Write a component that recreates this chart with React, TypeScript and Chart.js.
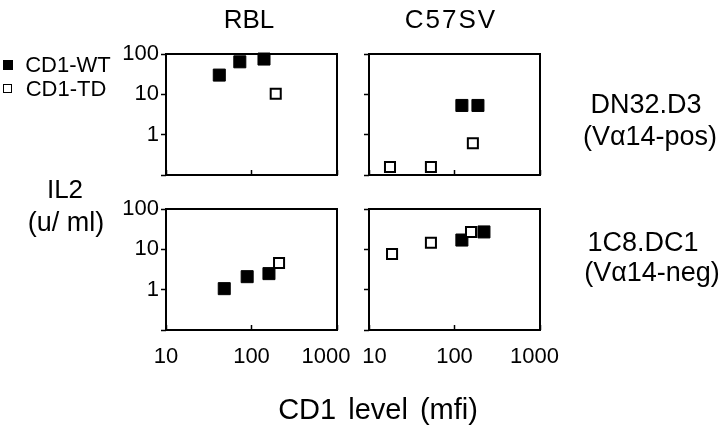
import React, { useEffect, useRef } from "react";
import { Chart, registerables } from "chart.js";

Chart.register(...registerables);

// ---- data ----
const xTickValues = [10, 100, 1000];
const yTickValues = [0.1, 1, 10, 100];
// left column labels are nudged apart from the right column ones with spaces, as in the figure
const xTickLabelsLeft = ["10", "100", "1000\u2002\u2002"];
const xTickLabelsRight = ["\u200210", "100", "1000\u2002"];
const yTickLabels = ["", "1", "10", "100"];

const columnTitles = ["RBL", "C57SV"];
const rowTitles = ["DN32.D3", "1C8.DC1"];
const rowSubtitles = ["(Vα14-pos)", "(Vα14-neg)"];
const seriesNames = ["CD1-WT", "CD1-TD"];

// RBL / DN32.D3
const rblDnWtX = [42, 73, 140];
const rblDnWtY = [30, 64, 75];
const rblDnTdX = [192];
const rblDnTdY = [10.4];
// C57SV / DN32.D3
const c57DnWtX = [122, 188];
const c57DnWtY = [5.3, 5.3];
const c57DnTdX = [17.6, 53, 164];
const c57DnTdY = [0.158, 0.158, 0.61];
// RBL / 1C8.DC1
const rbl1cWtX = [48, 89, 160];
const rbl1cWtY = [1.06, 2.1, 2.5];
const rbl1cTdX = [210];
const rbl1cTdY = [4.6];
// C57SV / 1C8.DC1
const c571cWtX = [122, 221];
const c571cWtY = [17, 27];
const c571cTdX = [18.6, 53, 156];
const c571cTdY = [7.7, 14.5, 27];

const FONT = "'Liberation Sans', Arial, Helvetica, sans-serif";
const W = 720;
const H = 426;

type Panel = {
  wtX: number[]; wtY: number[]; tdX: number[]; tdY: number[];
  left: number; right: number; top: number; bottom: number;
  showY: boolean; showX: boolean; xLabels: string[];
};

const panels: Panel[] = [
  { wtX: rblDnWtX, wtY: rblDnWtY, tdX: rblDnTdX, tdY: rblDnTdY, left: 166, right: 337, top: 54, bottom: 175, showY: true, showX: false, xLabels: xTickLabelsLeft },
  { wtX: c57DnWtX, wtY: c57DnWtY, tdX: c57DnTdX, tdY: c57DnTdY, left: 369, right: 540, top: 54, bottom: 175, showY: false, showX: false, xLabels: xTickLabelsRight },
  { wtX: rbl1cWtX, wtY: rbl1cWtY, tdX: rbl1cTdX, tdY: rbl1cTdY, left: 166, right: 337, top: 209, bottom: 330, showY: true, showX: true, xLabels: xTickLabelsLeft },
  { wtX: c571cWtX, wtY: c571cWtY, tdX: c571cTdX, tdY: c571cTdY, left: 369, right: 540, top: 209, bottom: 330, showY: false, showX: true, xLabels: xTickLabelsRight },
];

const zip = (xs: number[], ys: number[]) => xs.map((x, i) => ({ x, y: ys[i] }));

const framePlugin = {
  id: "frame",
  beforeDatasetsDraw(chart: any) {
    const { ctx, chartArea } = chart;
    ctx.save();
    ctx.strokeStyle = "#000";
    ctx.lineWidth = 2;
    ctx.strokeRect(chartArea.left, chartArea.top, chartArea.right - chartArea.left, chartArea.bottom - chartArea.top);
    ctx.restore();
  },
};

function makeConfig(p: Panel): any {
  const yW = 66;
  const xH = p.showX ? 40 : 10;
  return {
    type: "scatter",
    data: {
      datasets: [
        {
          label: seriesNames[1],
          data: zip(p.tdX, p.tdY),
          pointStyle: "rect",
          pointRadius: 7.1,
          pointHoverRadius: 7.1,
          borderWidth: 2,
          borderColor: "#000",
          backgroundColor: "#fff",
          order: 0,
          clip: false,
        },
        {
          label: seriesNames[0],
          data: zip(p.wtX, p.wtY),
          pointStyle: "rect",
          pointRadius: 8.5,
          pointHoverRadius: 8.5,
          borderWidth: 1,
          borderColor: "#000",
          backgroundColor: "#000",
          order: 1,
          clip: false,
        },
      ],
    },
    options: {
      responsive: false,
      animation: false,
      events: [],
      layout: {
        padding: {
          left: p.left - yW,
          right: W - p.right,
          top: p.top,
          bottom: H - p.bottom - xH,
        },
      },
      plugins: { legend: { display: false }, tooltip: { enabled: false } },
      scales: {
        x: {
          type: "logarithmic",
          min: 10,
          max: 1000,
          border: { display: false },
          grid: { drawOnChartArea: false, drawTicks: true, tickLength: -5, tickWidth: 1.5, color: "#000" },
          ticks: {
            display: p.showX,
            color: "#000",
            font: { family: FONT, size: 22 },
            padding: 19,
            maxRotation: 0,
            autoSkip: false,
            callback: (v: number) => {
              const i = xTickValues.indexOf(v);
              return i >= 0 ? p.xLabels[i] : "";
            },
          },
          afterBuildTicks: (s: any) => {
            s.ticks = xTickValues.map((v) => ({ value: v }));
          },
          afterFit: (s: any) => {
            s.height = xH;
            s.paddingLeft = 0;
            s.paddingRight = 0;
          },
        },
        y: {
          type: "logarithmic",
          min: 0.1,
          max: 100,
          border: { display: false },
          grid: { drawOnChartArea: false, drawTicks: true, tickLength: 5, tickWidth: 1.5, color: "#000" },
          ticks: {
            display: p.showY,
            color: "#000",
            font: { family: FONT, size: 22 },
            padding: 2,
            autoSkip: false,
            callback: (v: number) => {
              const i = yTickValues.indexOf(v);
              return i >= 0 ? yTickLabels[i] : "";
            },
          },
          afterBuildTicks: (s: any) => {
            s.ticks = yTickValues.map((v) => ({ value: v }));
          },
          afterFit: (s: any) => {
            s.width = yW;
            s.paddingTop = 0;
            s.paddingBottom = 0;
          },
        },
      },
    },
    plugins: [framePlugin],
  };
}

function Label(props: { text: string; cx: number; baseline: number; size: number; spacing?: number; wordSpacing?: number }) {
  const { text, cx, baseline, size, spacing, wordSpacing } = props;
  return (
    <div
      style={{
        position: "absolute",
        left: cx,
        top: baseline - 0.8465 * size,
        transform: "translateX(-50%)",
        fontFamily: FONT,
        fontSize: size,
        lineHeight: `${size}px`,
        whiteSpace: "nowrap",
        color: "#000",
        letterSpacing: spacing ? `${spacing}px` : undefined,
        wordSpacing: wordSpacing ? `${wordSpacing}px` : undefined,
      }}
    >
      {text}
    </div>
  );
}

export default function App() {
  const refs = [useRef<HTMLCanvasElement>(null), useRef<HTMLCanvasElement>(null), useRef<HTMLCanvasElement>(null), useRef<HTMLCanvasElement>(null)];

  useEffect(() => {
    const charts = panels.map((p, i) => new Chart(refs[i].current as HTMLCanvasElement, makeConfig(p)));
    return () => charts.forEach((c) => c.destroy());
  }, []);

  return (
    <div style={{ position: "fixed", left: 0, top: 0, width: W, height: H, background: "#fff", overflow: "hidden" }}>
      {panels.map((_, i) => (
        <canvas key={i} ref={refs[i]} width={W} height={H} style={{ position: "absolute", left: 0, top: 0, width: W, height: H }} />
      ))}
      <Label text={columnTitles[0]} cx={249} baseline={28} size={26} />
      <Label text={columnTitles[1]} cx={451} baseline={28} size={26} spacing={2} />
      <Label text="IL2" cx={65} baseline={198} size={26} />
      <Label text="(u/ ml)" cx={66} baseline={232} size={27} />
      <Label text={rowTitles[0]} cx={646} baseline={114} size={27} />
      <Label text={rowSubtitles[0]} cx={650} baseline={146} size={27} />
      <Label text={rowTitles[1]} cx={643} baseline={252} size={27} />
      <Label text={rowSubtitles[1]} cx={652} baseline={282} size={27} />
      <Label text="CD1 level (mfi)" cx={378} baseline={420} size={29} wordSpacing={4} />
      {/* legend */}
      <div style={{ position: "absolute", left: 3, top: 60, width: 10, height: 10, background: "#000" }} />
      <Label text={seriesNames[0]} cx={68} baseline={73} size={22} />
      <div style={{ position: "absolute", left: 3, top: 84, width: 7, height: 7, border: "1.5px solid #000", background: "#fff" }} />
      <Label text={seriesNames[1]} cx={66} baseline={97} size={22} />
    </div>
  );
}
